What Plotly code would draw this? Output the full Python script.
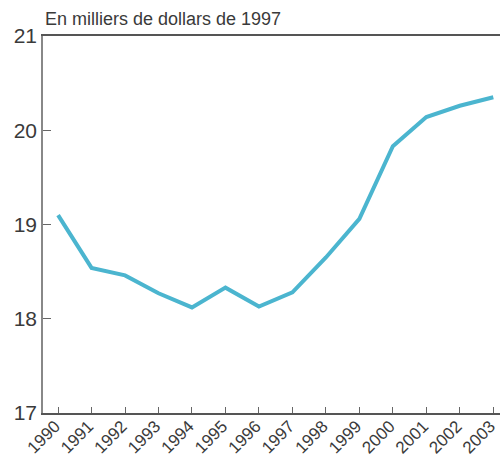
import plotly.graph_objects as go

years = [1990, 1991, 1992, 1993, 1994, 1995, 1996, 1997, 1998, 1999, 2000, 2001, 2002, 2003]
values = [19.10, 18.54, 18.46, 18.27, 18.12, 18.33, 18.13, 18.28, 18.65, 19.06, 19.83, 20.14, 20.26, 20.35]
tick_labels = [str(y) for y in years]
y_ticks = [17, 18, 19, 20, 21]

fig = go.Figure()
fig.add_trace(go.Scatter(x=years, y=values, mode="lines",
                         line=dict(color="#4BB5CF", width=4), hoverinfo="skip",
                         cliponaxis=False))

fig.update_layout(
    width=500, height=457,
    margin=dict(l=43, r=0, t=36, b=44, autoexpand=False),
    plot_bgcolor="white", paper_bgcolor="white",
    showlegend=False,
    font=dict(family="Liberation Sans, Arial, sans-serif", color="#333333"),
    xaxis=dict(range=[1989.55, 2003.2], tickvals=years, ticktext=tick_labels,
               tickangle=-45, ticks="inside", ticklen=6, tickcolor="#666666",
               showline=True, linecolor="#555555", linewidth=1.5, mirror=True,
               automargin=False, ticklabeloverflow="allow", ticklabelstandoff=-5,
               ticklabelshift=-3,
               showgrid=False, zeroline=False, tickfont=dict(size=17, color="#3a3a3a")),
    yaxis=dict(range=[17, 21], tickvals=y_ticks, ticks="inside", ticklen=8,
               tickcolor="#666666", showline=True, linecolor="#888888", linewidth=1.5,
               automargin=False,
               showgrid=False, zeroline=False, tickfont=dict(size=21, color="#3a3a3a")),
    annotations=[dict(text="En milliers de dollars de 1997", xref="paper", yref="paper",
                      x=0, y=1, xanchor="left", yanchor="bottom", yshift=5, xshift=0,
                      showarrow=False, font=dict(size=18, color="#3a3a3a"))],
)

fig.write_html("out.html", config={"displayModeBar": False},
               post_script="document.body.style.margin='0';document.body.style.overflow='hidden';")
